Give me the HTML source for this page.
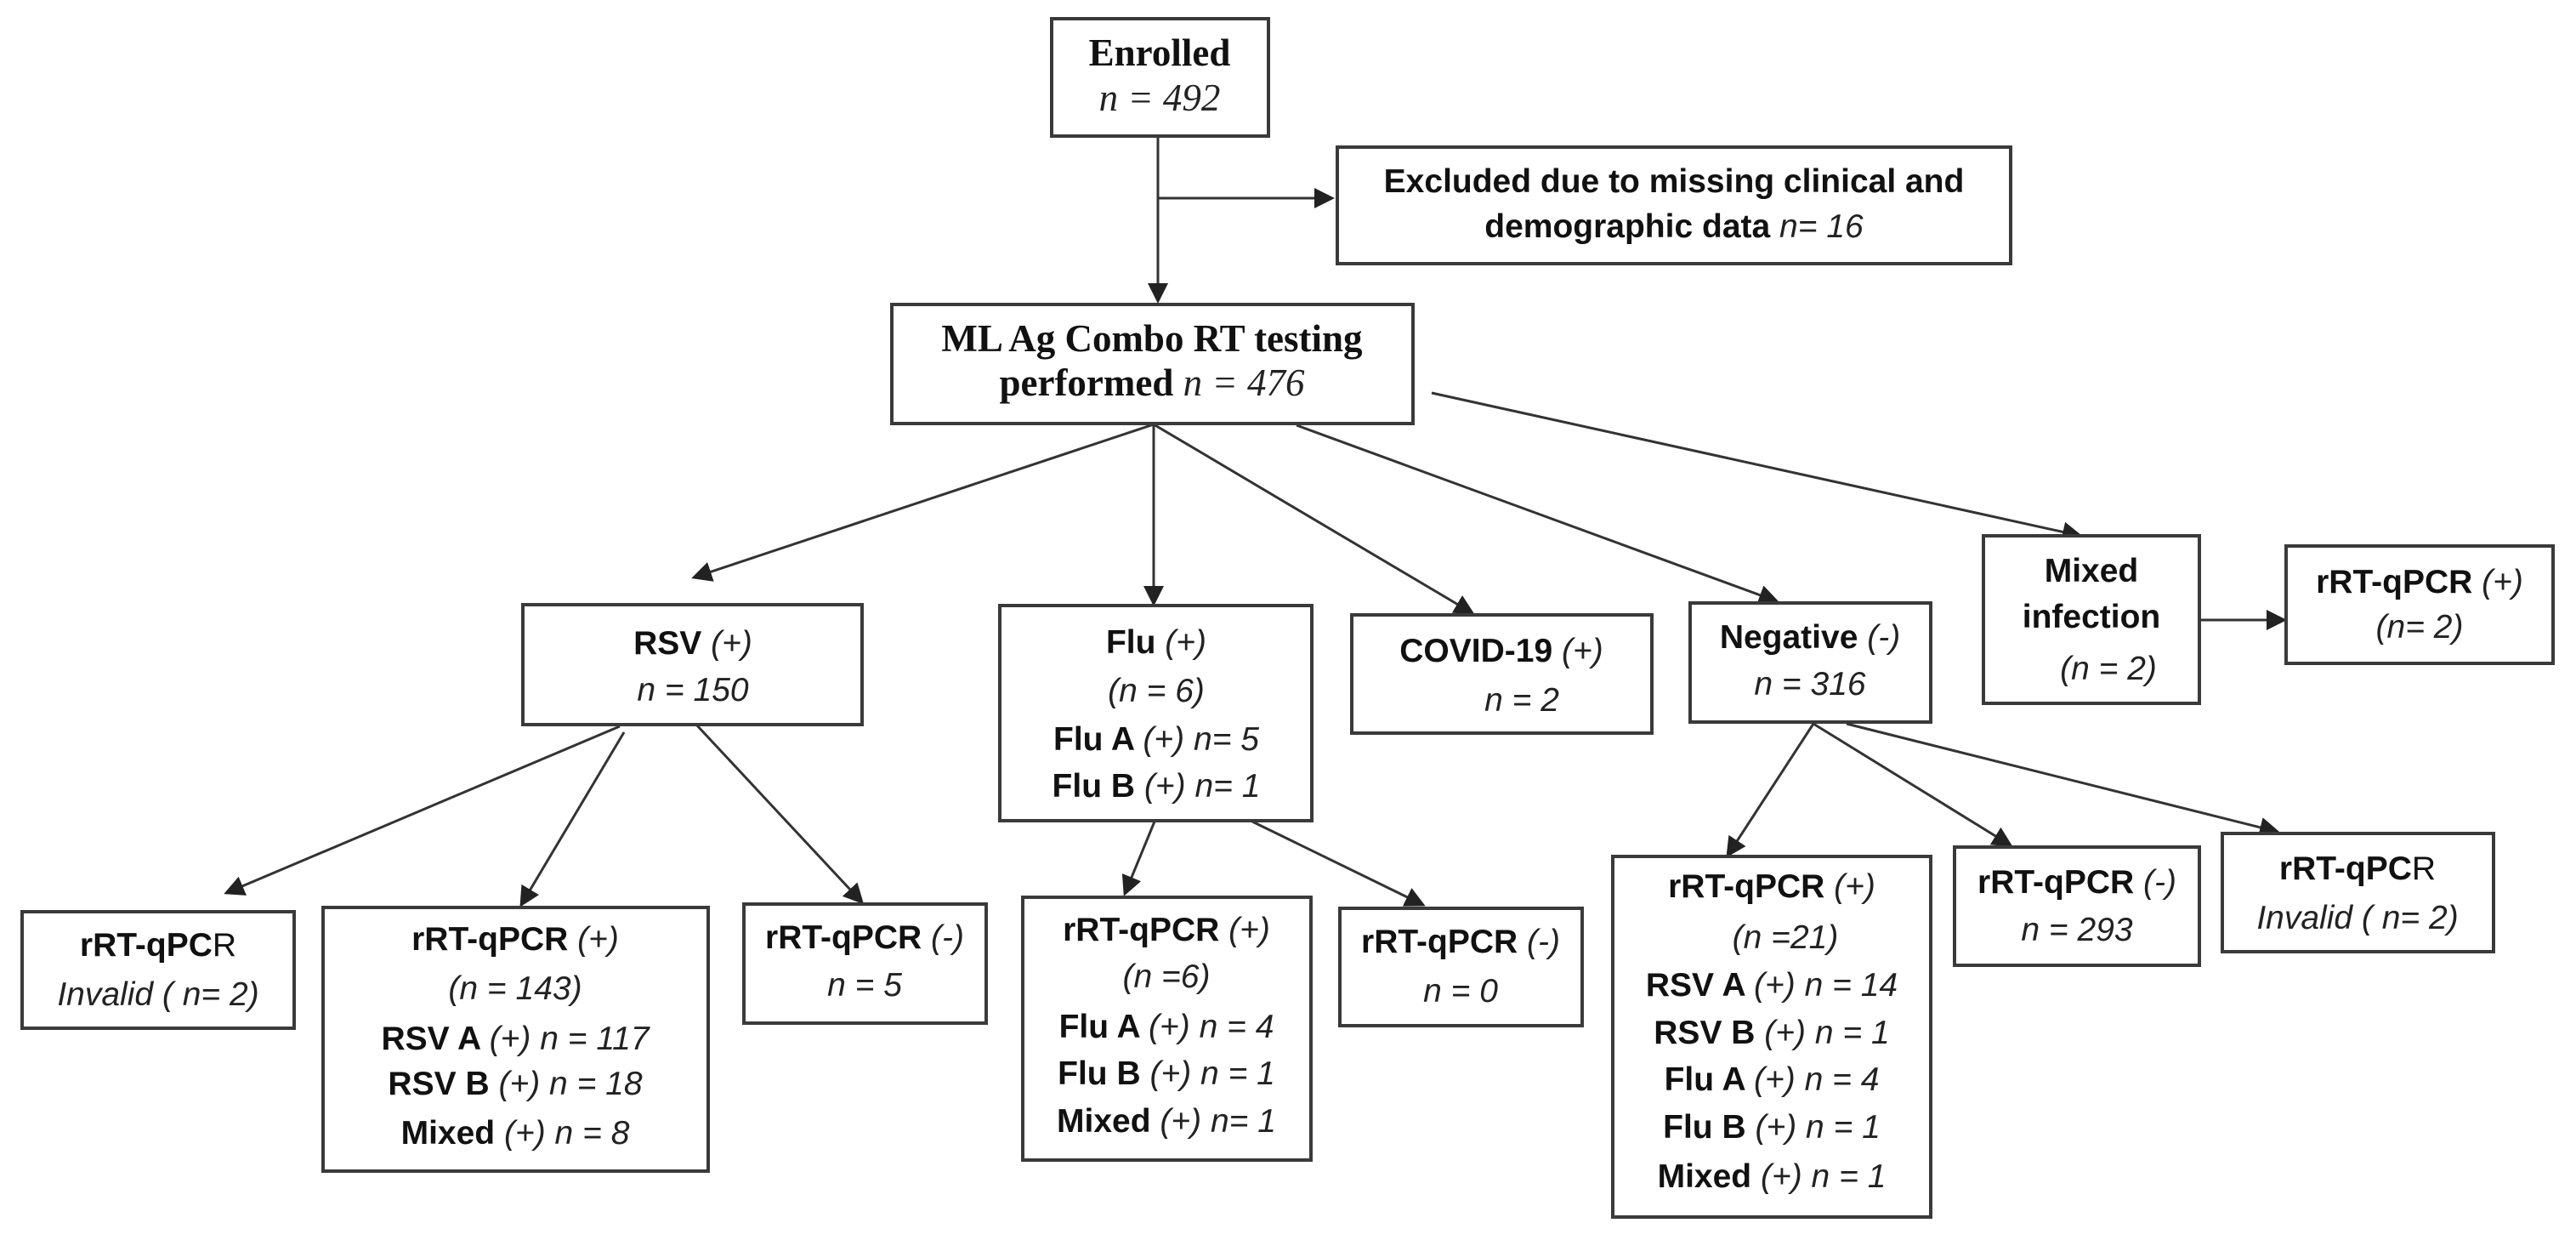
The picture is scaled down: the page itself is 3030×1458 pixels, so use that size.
<!DOCTYPE html>
<html><head><meta charset="utf-8"><style>
html,body{margin:0;padding:0;background:#fff;}
svg{display:block;}
.b{fill:#fff;stroke:#3a3a3a;stroke-width:4;}
.l{stroke:#333;stroke-width:3;fill:none;}
text{font-family:"Liberation Sans",sans-serif;font-size:39px;fill:#111;text-anchor:middle;}
.bo{font-weight:bold;}
.it{font-style:italic;font-weight:normal;fill:#222;}
.s{font-family:"Liberation Serif",serif;font-size:45px;}
</style></head><body>
<svg width="3030" height="1458" viewBox="0 0 3030 1458" xmlns="http://www.w3.org/2000/svg">
<defs><marker id="a" markerWidth="8" markerHeight="8" refX="7" refY="4" orient="auto" markerUnits="strokeWidth"><path d="M0,0 L8,4 L0,8 z" fill="#222"/></marker></defs>

<line class="l" x1="1362" y1="160" x2="1362" y2="354" marker-end="url(#a)"/>
<line class="l" x1="1362" y1="233" x2="1567" y2="233" marker-end="url(#a)"/>
<line class="l" x1="1357" y1="499" x2="816" y2="679" marker-end="url(#a)"/>
<line class="l" x1="1357" y1="499" x2="1357" y2="710" marker-end="url(#a)"/>
<line class="l" x1="1357" y1="499" x2="1732" y2="721" marker-end="url(#a)"/>
<line class="l" x1="1525" y1="500" x2="2090" y2="707" marker-end="url(#a)"/>
<line class="l" x1="1684" y1="462" x2="2447" y2="630" marker-end="url(#a)"/>
<line class="l" x1="2587" y1="729" x2="2687" y2="729" marker-end="url(#a)"/>
<line class="l" x1="729" y1="854" x2="266" y2="1050" marker-end="url(#a)"/>
<line class="l" x1="734" y1="861" x2="613" y2="1064" marker-end="url(#a)"/>
<line class="l" x1="819" y1="852" x2="1014" y2="1061" marker-end="url(#a)"/>
<line class="l" x1="1358" y1="966" x2="1323" y2="1051" marker-end="url(#a)"/>
<line class="l" x1="1473" y1="966" x2="1674" y2="1064" marker-end="url(#a)"/>
<line class="l" x1="2133" y1="851" x2="2032" y2="1006" marker-end="url(#a)"/>
<line class="l" x1="2133" y1="851" x2="2365" y2="994" marker-end="url(#a)"/>
<line class="l" x1="2172" y1="851" x2="2679" y2="978" marker-end="url(#a)"/>

<rect class="b" x="1237" y="22" width="255" height="138"/>
<text class="s bo" x="1364" y="77">Enrolled</text>
<text class="s it" x="1364" y="130">n = 492</text>

<rect class="b" x="1573" y="173" width="792" height="137"/>
<text class="bo" x="1969" y="226">Excluded due to missing clinical and</text>
<text class="bo" x="1969" y="279">demographic data <tspan class="it">n= 16</tspan></text>

<rect class="b" x="1049" y="358" width="613" height="140"/>
<text class="s bo" x="1355" y="413">ML Ag Combo RT testing</text>
<text class="s bo" x="1355" y="465">performed <tspan class="it">n = 476</tspan></text>

<rect class="b" x="615" y="711" width="399" height="141"/>
<text class="bo" x="815" y="769">RSV  <tspan class="it">(+)</tspan></text>
<text class="it" x="815" y="824">n =  150</text>

<rect class="b" x="1176" y="712" width="367" height="253"/>
<text class="bo" x="1360" y="768">Flu <tspan class="it">(+)</tspan></text>
<text class="it" x="1360" y="825">(n = 6)</text>
<text class="bo" x="1360" y="882">Flu A <tspan class="it">(+) n= 5</tspan></text>
<text class="bo" x="1360" y="937">Flu B  <tspan class="it">(+) n= 1</tspan></text>

<rect class="b" x="1590" y="723" width="353" height="139"/>
<text class="bo" x="1766" y="778">COVID-19 <tspan class="it">(+)</tspan></text>
<text class="it" x="1790" y="836">n = 2</text>

<rect class="b" x="1988" y="709" width="283" height="140"/>
<text class="bo" x="2129" y="762">Negative <tspan class="it">(-)</tspan></text>
<text class="it" x="2129" y="817">n = 316</text>

<rect class="b" x="2333" y="630" width="254" height="197"/>
<text class="bo" x="2460" y="684">Mixed</text>
<text class="bo" x="2460" y="738">infection</text>
<text class="it" x="2480" y="799">(n = 2)</text>

<rect class="b" x="2689" y="642" width="314" height="138"/>
<text class="bo" x="2846" y="697">rRT-qPCR <tspan class="it">(+)</tspan></text>
<text class="it" x="2846" y="750">(n= 2)</text>

<rect class="b" x="26" y="1072" width="320" height="137"/>
<text class="bo" x="186" y="1124">rRT-qPC<tspan font-weight="normal">R</tspan></text>
<text class="it" x="186" y="1182">Invalid ( n= 2)</text>

<rect class="b" x="380" y="1067" width="453" height="310"/>
<text class="bo" x="606" y="1117">rRT-qPCR <tspan class="it">(+)</tspan></text>
<text class="it" x="606" y="1175">(n = 143)</text>
<text class="bo" x="606" y="1234">RSV A <tspan class="it">(+)  n =  117</tspan></text>
<text class="bo" x="606" y="1287">RSV B <tspan class="it">(+) n = 18</tspan></text>
<text class="bo" x="606" y="1345">Mixed <tspan class="it">(+) n = 8</tspan></text>

<rect class="b" x="875" y="1063" width="285" height="140"/>
<text class="bo" x="1017" y="1115">rRT-qPCR <tspan class="it">(-)</tspan></text>
<text class="it" x="1017" y="1171">n = 5</text>

<rect class="b" x="1203" y="1055" width="339" height="309"/>
<text class="bo" x="1372" y="1106">rRT-qPCR <tspan class="it">(+)</tspan></text>
<text class="it" x="1372" y="1161">(n =6)</text>
<text class="bo" x="1372" y="1220">Flu A <tspan class="it">(+) n = 4</tspan></text>
<text class="bo" x="1372" y="1275">Flu B <tspan class="it">(+) n = 1</tspan></text>
<text class="bo" x="1372" y="1331">Mixed <tspan class="it">(+)  n= 1</tspan></text>

<rect class="b" x="1576" y="1068" width="285" height="138"/>
<text class="bo" x="1718" y="1120">rRT-qPCR <tspan class="it">(-)</tspan></text>
<text class="it" x="1718" y="1178">n = 0</text>

<rect class="b" x="1897" y="1007" width="374" height="424"/>
<text class="bo" x="2084" y="1055">rRT-qPCR <tspan class="it">(+)</tspan></text>
<text class="it" x="2100" y="1115">(n =21)</text>
<text class="bo" x="2084" y="1171">RSV A <tspan class="it">(+) n = 14</tspan></text>
<text class="bo" x="2084" y="1227">RSV B <tspan class="it">(+) n = 1</tspan></text>
<text class="bo" x="2084" y="1282">Flu A <tspan class="it">(+) n = 4</tspan></text>
<text class="bo" x="2084" y="1338">Flu B <tspan class="it">(+) n = 1</tspan></text>
<text class="bo" x="2084" y="1396">Mixed <tspan class="it">(+) n = 1</tspan></text>

<rect class="b" x="2299" y="996" width="288" height="139"/>
<text class="bo" x="2443" y="1050">rRT-qPCR <tspan class="it">(-)</tspan></text>
<text class="it" x="2443" y="1106">n = 293</text>

<rect class="b" x="2614" y="980" width="319" height="139"/>
<text class="bo" x="2773" y="1034">rRT-qPC<tspan font-weight="normal">R</tspan></text>
<text class="it" x="2773" y="1092">Invalid ( n= 2)</text>
</svg>
</body></html>
